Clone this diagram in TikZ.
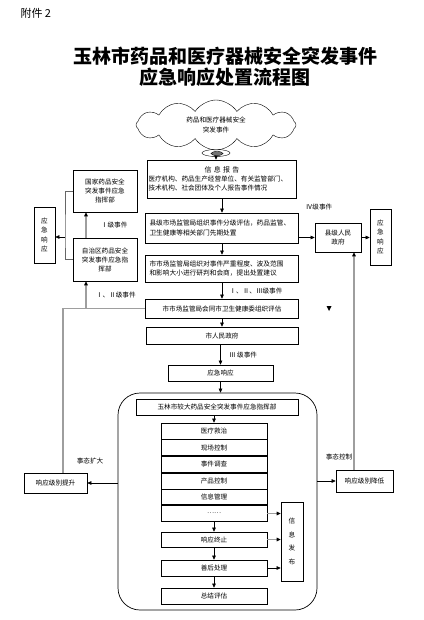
\documentclass[tikz,border=0pt]{standalone}
\usepackage{fontspec}
\setmainfont{Noto Sans CJK SC}
\usetikzlibrary{arrows.meta, positioning, shapes.symbols, shapes.geometric}

\begin{document}
\begin{tikzpicture}[x=1pt, y=-1pt,
    arr/.style={-{Triangle[length=4pt, width=3.6pt]}, line width=0.6pt},
    garr/.style={-{Triangle[length=4pt, width=3.6pt, color=black]}, line width=1.4pt, draw=black!38},
    gline/.style={line width=1.4pt, draw=black!38},
    box/.style={rectangle, draw, line width=0.7pt, inner sep=1pt, align=center, font=\fontsize{6.6}{9}\selectfont},
    wbox/.style={box, align=left, font=\fontsize{6.7}{9.5}\selectfont},
    vbox/.style={box, font=\fontsize{6.6}{9.5}\selectfont},
    lbl/.style={font=\fontsize{6.6}{8}\selectfont},
]
\useasboundingbox (0,0) rectangle (423,620);

% Heading
\node[font=\fontsize{11}{13}\selectfont, anchor=west] (annex) at (17,13) {附件 2};
\node[font=\fontsize{19}{21}\selectfont\bfseries, align=center] (title) at (225,67) {玉林市药品和医疗器械安全突发事件\\应急响应处置流程图};

% Event and report
\node[cloud, draw, cloud puffs=12, cloud puff arc=115, cloud ignores aspect, minimum width=160, minimum height=50, align=center, font=\fontsize{6.6}{9.5}\selectfont] (event) at (216,125) {药品和医疗器械安全\\突发事件};
\node[ellipse, draw, minimum width=28, minimum height=7, inner sep=0pt] (tail) at (216,153) {};
\node[ellipse, draw, fill=black!55, minimum width=12, minimum height=4, inner sep=0pt] (tailin) at (217,153.5) {};
\node[box, text width=147, align=left, minimum height=38] (info) at (222,179)
    {\makebox[147pt]{\fontsize{7}{9}\selectfont 信\ 息\ 报\ 告}\\医疗机构、药品生产经营单位、有关监管部门、\\技术机构、社会团体及个人报告事件情况};

% Main column
\node[wbox, text width=145, minimum width=153, minimum height=30] (county) at (222,228) {县级市场监管局组织事件分级评估，药品监管、\\卫生健康等相关部门先期处置};
\node[wbox, text width=145, minimum width=153, minimum height=27] (city) at (222,268.5) {市市场监管局组织对事件严重程度、波及范围\\和影响大小进行研判和会商，提出处置建议};
\node[box, minimum width=153, minimum height=19] (joint) at (222,308.5) {市市场监管局会同市卫生健康委组织评估};
\node[box, minimum width=152, minimum height=17] (citygov) at (222,335.5) {市人民政府};
\node[box, minimum width=105, minimum height=16] (resp) at (220.5,373) {应急响应};

% Right branch
\node[box, minimum width=46, minimum height=29] (countygov) at (338,237.5) {县级人民\\政府};
\node[vbox, minimum width=21, minimum height=56] (rresp) at (380.5,237) {应\\急\\响\\应};
\node[lbl] (lvfour) at (319,207) {Ⅳ级事件};

% Left branch
\node[box, minimum width=64, minimum height=42] (nation) at (105,191) {国家药品安全\\突发事件应急\\指挥部};
\node[box, minimum width=64, minimum height=43] (region) at (105,259.5) {自治区药品安全\\突发事件应急指\\挥部};
\node[vbox, minimum width=21, minimum height=56] (lresp) at (44.5,235) {应\\急\\响\\应};

% Command frame
\node[draw, line width=0.7pt, rounded corners=22pt, minimum width=199, minimum height=217] (frame) at (217.5,501.5) {};
\node[box, minimum width=162, minimum height=16] (hq) at (217,407) {玉林市较大药品安全突发事件应急指挥部};
\node[box, minimum width=106, minimum height=16] (task1) at (214,431) {医疗救治};
\node[box, minimum width=106, minimum height=16, below=0pt of task1] (task2) {现场控制};
\node[box, minimum width=106, minimum height=16, below=0pt of task2] (task3) {事件调查};
\node[box, minimum width=106, minimum height=16, below=0pt of task3] (task4) {产品控制};
\node[box, minimum width=106, minimum height=15, below=0pt of task4] (task5) {信息管理};
\node[box, minimum width=106, minimum height=16, below=0pt of task5] (task6) {……};
\node[box, minimum width=106, minimum height=15] (stop) at (214,539.5) {响应终止};
\node[box, minimum width=106, minimum height=16] (after) at (214,568) {善后处理};
\node[box, minimum width=106, minimum height=16] (review) at (214,596) {总结评估};
\node[vbox, font=\fontsize{6.6}{13.5}\selectfont, minimum width=22, minimum height=79] (release) at (292,541.5) {信\\息\\发\\布};

% Level change
\node[box, minimum width=63, minimum height=20] (raise) at (55.5,483) {响应级别提升};
\node[box, minimum width=57, minimum height=22] (lower) at (364.5,481) {响应级别降低};
\node[lbl] (worse) at (90,461) {事态扩大};
\node[lbl] (ctrl) at (339,457) {事态控制};

% Connectors, main column
\draw[arr] (tail.south) -- (tail.south |- info.north);
\draw[arr] (info) -- (county);
\draw[arr] (county) -- (city);
\draw[arr] (city) -- node[lbl, right=4pt] {Ⅰ、Ⅱ、Ⅲ级事件} (joint);
\draw[arr] (joint) -- (citygov);
\draw[arr] (citygov.south -| resp) -- node[lbl, right=5pt] {Ⅲ 级事件} (resp.north);
\draw[arr] (resp.south) -- (resp.south |- frame.north);
\draw[arr] (hq.south -| task1) -- (task1.north);
\draw[arr] (task6) -- (stop);
\draw[arr] (stop) -- (after);
\draw[arr] (after) -- (review);
\draw[garr] (task6.east) -- (task6.east -| release.west);
\draw[garr] (stop.east) -- (stop.east -| release.west);
\draw[arr] (after.east) -- (after.east -| release.west);

% Connectors, right
\draw[arr] (county.east |- countygov) -- (countygov.west);
\draw[arr] (countygov.east) -- (countygov.east -| rresp.west);
\draw[arr] (frame.east |- lower) -- (lower.west);
\draw[garr] ([xshift=-10.5pt]lower.north) -- ([xshift=-10.5pt]lower.north |- countygov.south);
\fill (326.5,306) -- (331.5,306) -- (329,311) -- cycle;

% Connectors, left
\coordinate (split) at (86,308.5);
\coordinate (brk) at (65,237);
\draw[arr] (frame.west |- raise) -- (raise.east);
\draw[gline] ([xshift=7.5pt]raise.north) -- ([xshift=7.5pt]raise.north |- joint) -- (joint.west);
\draw[garr] (split) -- node[lbl, right=6pt, text=black] {Ⅰ、Ⅱ级事件} (split |- region.south);
\draw[garr] (split |- region.north) -- node[lbl, right=11pt, text=black] {Ⅰ级事件} (split |- nation.south);
\draw[line width=0.8pt, draw=black!60] (nation.west) -| (brk) |- (region.west);
\draw[arr] (brk) -- (brk -| lresp.east);

\end{tikzpicture}
\end{document}
